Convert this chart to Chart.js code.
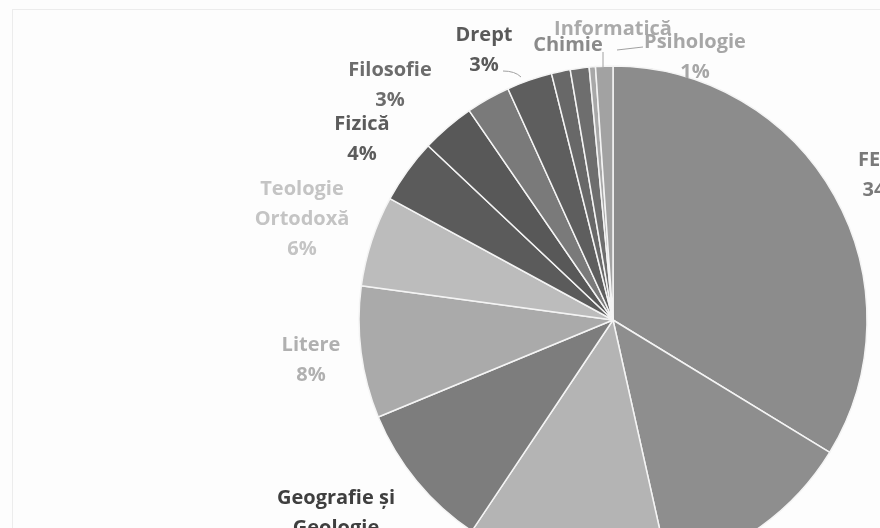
<!DOCTYPE html>
<html>
<head>
<meta charset="utf-8">
<script src="https://cdn.jsdelivr.net/npm/chart.js@4/dist/chart.umd.min.js"></script>
<style>
  html, body { margin: 0; padding: 0; width: 880px; height: 528px; overflow: hidden; background: #fdfdfd; }
  #frame { position: absolute; left: 12px; top: 9px; width: 900px; height: 600px; border-left: 1px solid #ececec; border-top: 1px solid #ececec; }
  #wrap { position: absolute; left: 0; top: 0; width: 1226px; height: 640px; }
</style>
</head>
<body>
<div id="frame"></div>
<div id="wrap"><canvas id="pie" width="1226" height="640"></canvas></div>
<script>
// slices clockwise from 12 o'clock; "" = label cropped out of the picture
const faculties = [
  "FEAA", "", "", "Geografie și Geologie", "Litere", "Teologie Ortodoxă",
  "Fizică", "Filosofie", "", "Drept", "Chimie", "", "Informatică", "Psihologie",
];
const shares = [33.8, 12.8, 12.9, 9.4, 8.4, 5.8, 4.1, 3.4, 2.8, 2.9, 1.2, 1.2, 0.4, 1.1];
const sliceColors = [
  "#8c8c8c", "#8e8e8e", "#b4b4b4", "#7d7d7d", "#aaaaaa", "#bcbcbc",
  "#5b5b5b", "#585858", "#7a7a7a", "#5e5e5e", "#686868", "#6e6e6e", "#a8a8a8", "#a2a2a2",
];

// where each label sits, as offsets from the pie centre
const LABEL_LAYOUT = {
  "FEAA": { dx: 270, dy: -160, color: "#7a7a7a" },
  "Geografie și Geologie": { dx: -277, dy: 178, color: "#3f3f3f", lines: ["Geografie și", "Geologie"] },
  "Litere": { dx: -302, dy: 25, color: "#b0b0b0" },
  "Teologie Ortodoxă": { dx: -311, dy: -131, color: "#c4c4c4", lines: ["Teologie", "Ortodoxă"] },
  "Fizică": { dx: -251, dy: -196, color: "#5c5c5c" },
  "Filosofie": { dx: -223, dy: -250, color: "#6c6c6c" },
  "Drept": { dx: -129, dy: -285, color: "#5a5a5a" },
  "Chimie": { dx: -45, dy: -275, color: "#8a8a8a", pctBehind: true, pctDy: 8 },
  "Informatică": { dx: 0, dy: -291, color: "#aaaaaa", pctBehind: true, pctDx: 18, pctDy: 18 },
  "Psihologie": { dx: 82, dy: -278, color: "#a6a6a6" },
};
const LINE_H = 30;
const FONT = "bold 20px 'Open Sans', sans-serif";

function pctText(v) {
  return `${Math.round(v)}%`;
}

function drawLabels(chart, behind) {
  const arc = chart.getDatasetMeta(0).data[0];
  const cx = arc.x;
  const cy = arc.y;
  const ctx = chart.ctx;
  ctx.save();
  ctx.font = FONT;
  ctx.textAlign = "center";
  ctx.textBaseline = "middle";
  faculties.forEach((name, i) => {
    const lay = LABEL_LAYOUT[name];
    if (!lay) return;
    const lines = lay.lines || [name];
    ctx.fillStyle = lay.color;
    if (!behind) {
      lines.forEach((t, k) => ctx.fillText(t, cx + lay.dx, cy + lay.dy + k * LINE_H));
    }
    if (!!lay.pctBehind === behind) {
      ctx.fillText(
        pctText(shares[i]),
        cx + lay.dx + (lay.pctDx || 0),
        cy + lay.dy + lines.length * LINE_H + (lay.pctDy || 0),
      );
    }
  });
  if (!behind) {
    // leader lines for the small slices at the top
    ctx.strokeStyle = "#a0a0a0";
    ctx.lineWidth = 1;
    ctx.beginPath();
    ctx.moveTo(cx - 110, cy - 249);
    ctx.quadraticCurveTo(cx - 98, cy - 249, cx - 92, cy - 243);
    ctx.moveTo(cx - 10, cy - 268);
    ctx.lineTo(cx - 10, cy - 253);
    ctx.moveTo(cx + 4, cy - 270);
    ctx.lineTo(cx + 30, cy - 273);
    ctx.stroke();
  }
  ctx.restore();
}

const sliceLabels = {
  id: "sliceLabels",
  beforeDatasetsDraw: (chart) => drawLabels(chart, true),
  afterDatasetsDraw: (chart) => drawLabels(chart, false),
};

new Chart(document.getElementById("pie"), {
  type: "pie",
  data: {
    labels: faculties,
    datasets: [{
      data: shares,
      backgroundColor: sliceColors,
      borderColor: "#f4f4f4",
      borderWidth: 1.5,
    }],
  },
  options: {
    responsive: false,
    animation: false,
    radius: 254,
    layout: { padding: 0 },
    plugins: {
      legend: { display: false },
      tooltip: { enabled: false },
    },
  },
  plugins: [sliceLabels],
});
</script>
</body>
</html>
